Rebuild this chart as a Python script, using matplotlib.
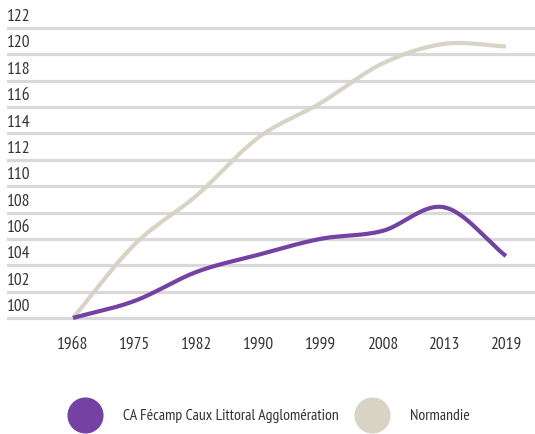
import matplotlib
matplotlib.use("Agg")
import matplotlib.pyplot as plt
import numpy as np
from matplotlib.lines import Line2D
from matplotlib.transforms import blended_transform_factory

plt.rcParams['font.family'] = ['PT Sans Narrow', 'DejaVu Sans']

# === Data ===
years = ["1968", "1975", "1982", "1990", "1999", "2008", "2013", "2019"]
ca_fecamp = [100.0, 101.3, 103.5, 104.8, 106.0, 106.6, 108.4, 104.7]
normandie = [100.0, 105.6, 109.3, 113.7, 116.3, 119.3, 120.8, 120.6]
y_ticks = [100, 102, 104, 106, 108, 110, 112, 114, 116, 118, 120, 122]
series_names = ["CA Fécamp Caux Littoral Agglomération", "Normandie"]

PURPLE = "#7442a2"
BEIGE = "#d9d3c6"
GRID = "#d9d9d9"
TEXT = "#333333"


def smooth(xs, ys, n=30):
    """ Catmull-Rom curve through the points (for drawing only). """
    xs = np.asarray(xs, float)
    ys = np.asarray(ys, float)
    px = np.concatenate([[2 * xs[0] - xs[1]], xs, [2 * xs[-1] - xs[-2]]])
    py = np.concatenate([[2 * ys[0] - ys[1]], ys, [2 * ys[-1] - ys[-2]]])
    out_x, out_y = [], []
    t = np.linspace(0, 1, n)
    for i in range(1, len(px) - 2):
        for p, out in ((px, out_x), (py, out_y)):
            p0, p1, p2, p3 = p[i - 1], p[i], p[i + 1], p[i + 2]
            out.extend(0.5 * ((2 * p1) + (-p0 + p2) * t
                              + (2 * p0 - 5 * p1 + 4 * p2 - p3) * t ** 2
                              + (-p0 + 3 * p1 - 3 * p2 + p3) * t ** 3))
    return np.array(out_x), np.array(out_y)


W, H = 535, 435
fig = plt.figure(figsize=(W / 100, H / 100), dpi=100)
ax = fig.add_axes([7 / W, 1 - 321.6 / H, 1 - 7 / W, (321.6 - 26.4) / H])

x = np.arange(len(years))
ax.set_xlim(-1.067, 7.47)
ax.set_ylim(99.8, 122.2)

for v in y_ticks:
    ax.axhline(v, color=GRID, lw=2.3, zorder=1)

trans = blended_transform_factory(ax.transAxes, ax.transData)
for v in y_ticks:
    ax.text(0, v + 0.3, str(v), transform=trans, ha="left", va="bottom",
            fontsize=12.5, color=TEXT)

sx, sy = smooth(x, normandie)
ax.plot(sx, sy, color=BEIGE, lw=3.0, solid_capstyle="butt", zorder=2, clip_on=False)
sx, sy = smooth(x, ca_fecamp)
ax.plot(sx, sy, color=PURPLE, lw=3.0, solid_capstyle="butt", zorder=3, clip_on=False)

ax.set_xticks(x)
ax.set_xticklabels(years, fontsize=12.5, color=TEXT)
ax.tick_params(axis="x", length=0, pad=11)
ax.set_yticks([])
for s in ax.spines.values():
    s.set_visible(False)

# legend: big dots + labels along the bottom
legend_y = 1 - 416 / H
for (cx, tx), name, col in zip([(85, 123), (372, 410)], series_names, [PURPLE, BEIGE]):
    fig.add_artist(Line2D([cx / W], [legend_y], ls="none", marker="o",
                          markersize=25, color=col, transform=fig.transFigure))
    fig.text(tx / W, legend_y, name, ha="left", va="center", fontsize=11.3, color=TEXT)

fig.savefig("out.png", dpi=100)
